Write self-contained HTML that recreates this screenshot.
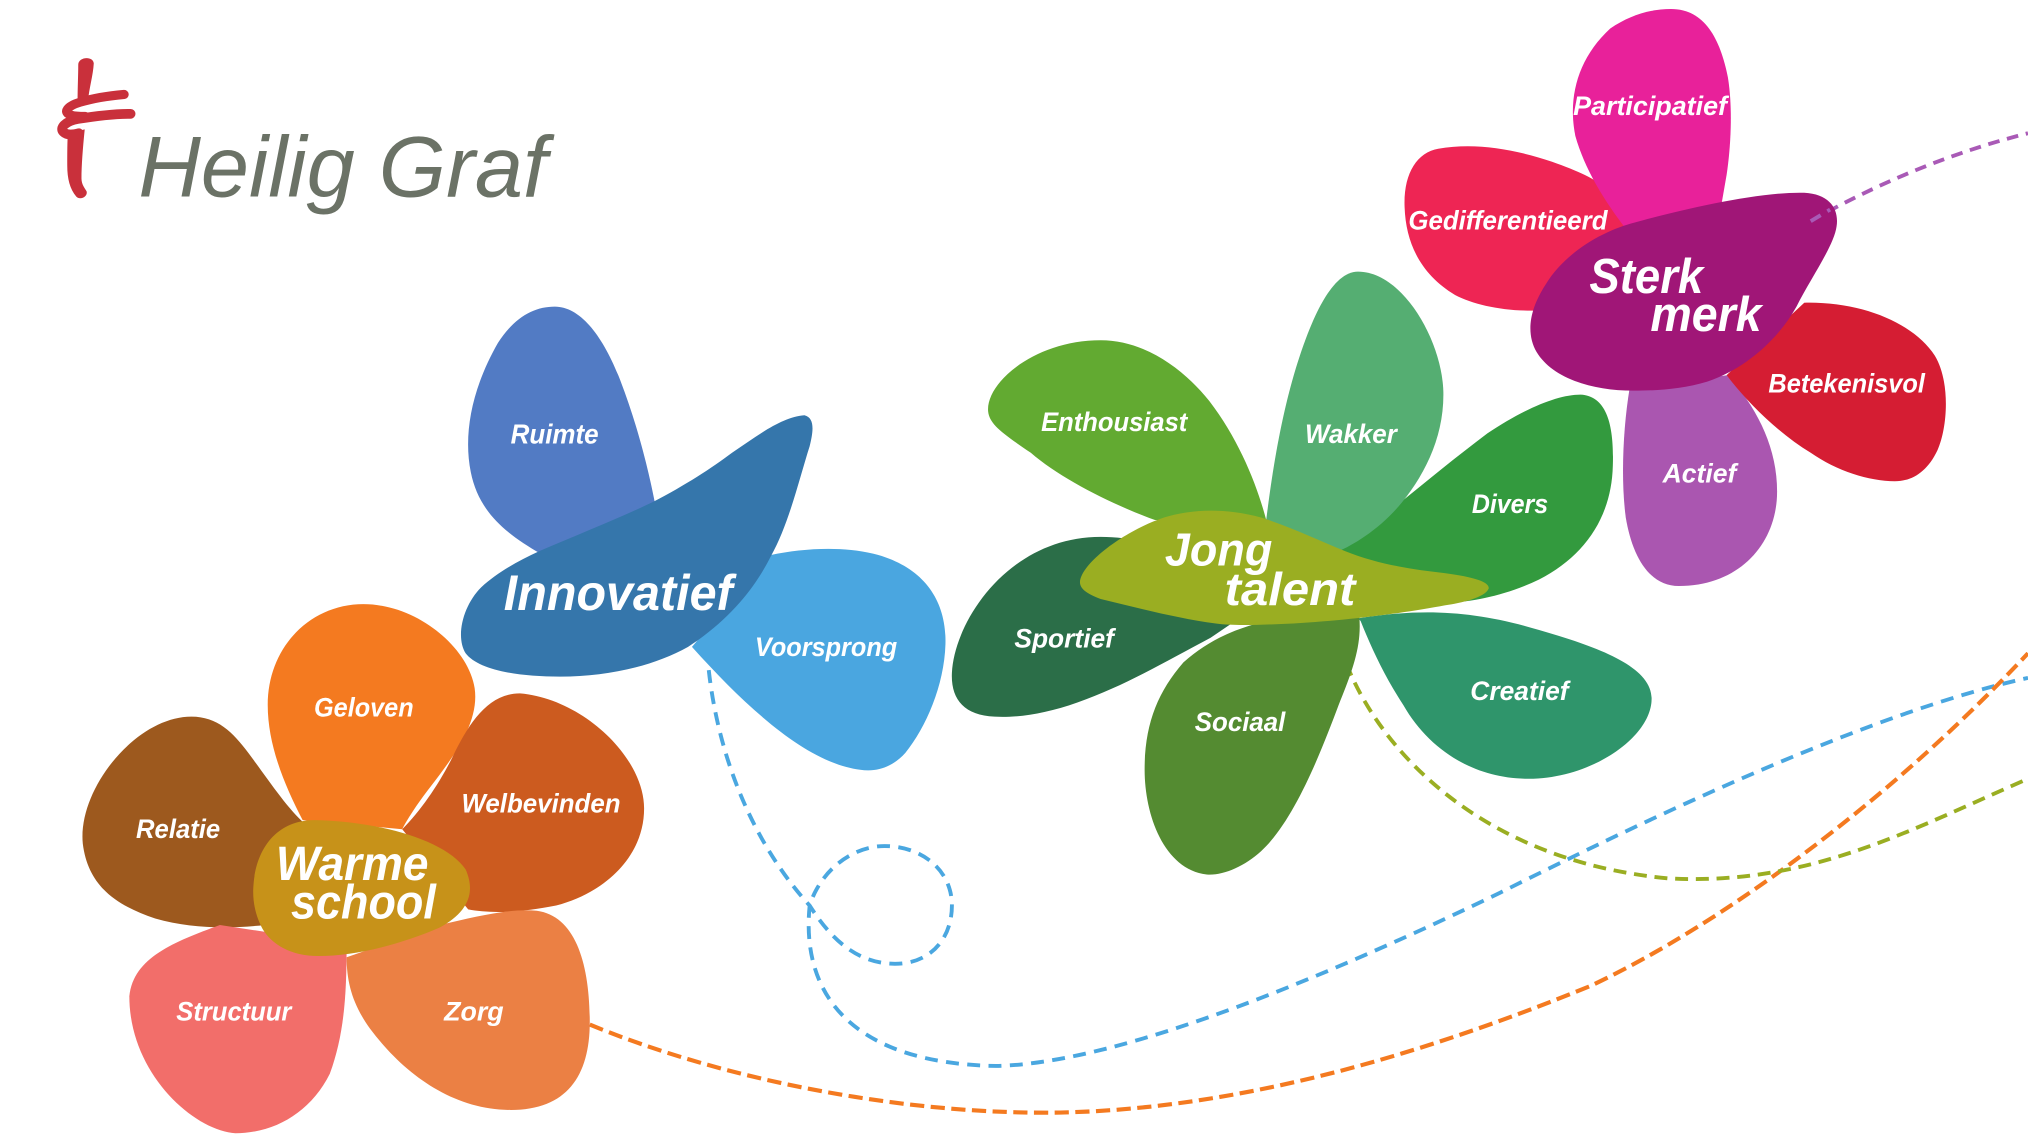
<!DOCTYPE html>
<html>
<head>
<meta charset="utf-8">
<style>
html,body{margin:0;padding:0;background:#ffffff;}
svg{display:block;}
.lbl{font-family:"Liberation Sans",sans-serif;font-style:italic;font-weight:bold;fill:#ffffff;}
.big{font-family:"Liberation Sans",sans-serif;font-style:italic;font-weight:bold;fill:#ffffff;}
</style>
</head>
<body>
<svg width="2028" height="1141" viewBox="0 0 1568 882" preserveAspectRatio="none" xmlns="http://www.w3.org/2000/svg">
<rect x="0" y="0" width="1568" height="882" fill="#ffffff"/>

<!-- dashed connectors (under flowers) -->
<g fill="none" stroke-linecap="butt">
  <path d="M1400,171 C1440,148 1500,120 1568,103" stroke="#a95ab6" stroke-width="3" stroke-dasharray="9 6"/>
  <path d="M548,518 C556,590 585,655 626,700 C640,722 660,745 692,745 C720,745 736,725 736,700 C736,672 712,654 684,654 C658,654 634,674 626,700 C619,770 660,822 770,824 C870,822 1040,748 1160,690 C1290,625 1450,550 1568,524" stroke="#4aa7e0" stroke-width="3" stroke-dasharray="10 6.5"/>
  <path d="M456,792 C560,835 700,862 820,860 C960,857 1100,815 1230,762 C1330,715 1460,620 1568,505" stroke="#f47a20" stroke-width="3.2" stroke-dasharray="11 5"/>
  <path d="M1041,513 C1065,575 1140,665 1290,679 C1400,685 1480,640 1568,602" stroke="#9aae22" stroke-width="3" stroke-dasharray="10 6"/>
</g>

<!-- Logo -->
<g fill="#c9303b">
  <path d="M60.5,50 C60.5,44 72,43 72.5,49 C72,58 69,68 68,78 L60,78 C60,68 60.5,58 60.5,50 Z"/>
  <path d="M52.5,103 L65.5,100 C64,115 63,128 63,138 C63,143 66,146 67,148 C68,152 62,155 59,152 C54,146 52,138 52,128 C52,118 52,110 52.5,103 Z"/>
</g>
<g fill="none" stroke="#c9303b" stroke-linecap="round" stroke-linejoin="round">
  <path d="M96,73 C85,74 72,76 62,79 C52,82 48,87 55,89 C58,90 62,90 66,90" stroke-width="7"/>
  <path d="M101,88 C88,88 72,90 60,92 C50,94 46,99 49,102 C52,105 57,104 61,103" stroke-width="7.5"/>
</g>
<text x="107" y="152" font-family="Liberation Sans, sans-serif" font-style="italic" font-size="67" fill="#6b7266" textLength="316" lengthAdjust="spacingAndGlyphs">Heilig Graf</text>

<!-- Innovatief flower -->
<path fill="#527bc4" d="M429,237 C448,237 465,258 478,290 C492,325 502,365 507,392 L418,428 C390,412 370,395 364,365 C358,335 365,300 385,265 C398,245 413,237 429,237 Z"/>
<path fill="#4aa6e0" d="M596,429 C620,424 650,422 675,428 C712,437 732,462 731,498 C730,530 716,562 700,582 C690,593 678,597 665,595 C625,590 580,550 535,500 Z"/>
<path fill="#3576ab" d="M622,321 C630,323 629,333 626,345 C618,370 610,405 596,430 C585,452 566,478 532,500 C505,515 470,523 433,523 C400,523 370,518 360,505 C352,492 358,468 372,454 C385,442 400,434 417,426 C450,412 480,400 505,388 C530,375 550,362 566,350 C585,337 605,322 622,321 Z"/>
<text class="lbl" x="394.8" y="342.8" font-size="21.5" textLength="68" lengthAdjust="spacingAndGlyphs">Ruimte</text>
<text class="lbl" x="583.7" y="507" font-size="21" textLength="110" lengthAdjust="spacingAndGlyphs">Voorsprong</text>
<text class="big" x="389.5" y="471.6" font-size="39" textLength="177" lengthAdjust="spacingAndGlyphs">Innovatief</text>

<!-- Warme school flower -->
<path fill="#9d591e" d="M148,554 C168,554 180,566 192,582 C207,602 222,625 236,637 L205,715 C178,718 148,718 120,710 C90,700 68,685 64,652 C60,610 105,554 148,554 Z"/>
<path fill="#f47a20" d="M281,467 C322,467 362,500 367,532 C371,560 348,588 333,608 C322,622 314,635 311,641 L234,634 C220,607 207,576 207,545 C207,500 240,467 281,467 Z"/>
<path fill="#cc5b1f" d="M402,536 C450,540 498,585 498,625 C498,662 468,690 430,700 C400,706 378,706 362,703 L311,641 C326,626 340,605 350,585 C362,560 377,536 402,536 Z"/>
<path fill="#eb8044" d="M340,715 C370,708 395,702 415,704 C445,708 456,745 456,790 C456,832 438,858 395,858 C350,858 312,830 286,795 C273,777 268,760 268,740 Z"/>
<path fill="#f26e6a" d="M100,770 C103,740 135,728 170,715 L268,730 C268,770 266,800 255,830 C240,860 212,876 182,876 C150,874 100,830 100,770 Z"/>
<path fill="#c79219" d="M243,634 C295,635 345,650 360,672 C368,690 362,705 340,717 C310,730 275,739 246,739 C225,739 210,730 203,718 C197,707 195,695 196,684 C198,655 215,634 243,634 Z"/>
<text class="lbl" x="242.8" y="554" font-size="20.5" textLength="77" lengthAdjust="spacingAndGlyphs">Geloven</text>
<text class="lbl" x="105.2" y="647.7" font-size="20.5" textLength="65" lengthAdjust="spacingAndGlyphs">Relatie</text>
<text class="lbl" x="356.8" y="627.9" font-size="20.5" textLength="123" lengthAdjust="spacingAndGlyphs">Welbevinden</text>
<text class="lbl" x="136.3" y="788.9" font-size="20.5" textLength="89" lengthAdjust="spacingAndGlyphs">Structuur</text>
<text class="lbl" x="343.4" y="789" font-size="20.5" textLength="46" lengthAdjust="spacingAndGlyphs">Zorg</text>
<text class="big" x="213.3" y="680.3" font-size="37" textLength="118" lengthAdjust="spacingAndGlyphs">Warme</text>
<text class="big" x="225" y="710" font-size="37" textLength="112" lengthAdjust="spacingAndGlyphs">school</text>

<!-- Jong talent flower -->
<path fill="#62aa31" d="M764,318 C762,296 800,263 851,263 C885,263 915,285 935,310 C958,340 972,375 979,402 L893,402 C860,390 820,370 797,350 C775,335 765,328 764,318 Z"/>
<path fill="#339a3e" d="M1035,426 C1070,400 1110,365 1150,335 C1180,315 1205,305 1222,305 C1243,306 1248,330 1247,360 C1246,400 1225,430 1190,448 C1165,460 1140,465 1120,466 L1100,468 Z"/>
<path fill="#55ae72" d="M1050,210 C1085,210 1116,265 1116,305 C1116,340 1100,370 1080,393 C1065,410 1045,422 1035,426 L979,402 C983,370 990,320 1005,275 C1015,245 1030,210 1050,210 Z"/>
<path fill="#2f956b" d="M1050,478 C1100,470 1140,472 1190,487 C1235,500 1277,515 1277,540 C1277,570 1230,602 1182,602 C1140,602 1105,580 1085,545 C1070,522 1060,500 1052,480 Z"/>
<path fill="#2b6e48" d="M851,415 C900,415 935,440 958,478 L936,493 C900,512 870,530 833,543 C808,552 785,555 769,554 C745,553 735,540 736,520 C738,480 780,415 851,415 Z"/>
<path fill="#548b31" d="M972,482 L1051,477 C1053,500 1045,520 1035,545 C1020,585 1000,635 975,658 C962,670 945,677 933,676 C900,672 885,630 885,595 C885,560 895,535 915,512 C932,497 950,488 972,482 Z"/>
<path fill="#9aae22" d="M835,450 C836,435 870,410 900,400 C920,394 945,392 975,400 C1000,408 1020,418 1040,426 C1065,436 1090,440 1117,443 C1140,446 1152,450 1151,455 C1148,462 1130,466 1117,468 C1090,473 1050,479 1000,482 C975,483 955,484 940,482 C910,478 880,470 851,463 C840,459 835,455 835,450 Z"/>
<text class="lbl" x="805" y="333" font-size="20.5" textLength="113" lengthAdjust="spacingAndGlyphs">Enthousiast</text>
<text class="lbl" x="1009" y="342.3" font-size="20.5" textLength="71" lengthAdjust="spacingAndGlyphs">Wakker</text>
<text class="lbl" x="1138" y="396.7" font-size="20.5" textLength="59" lengthAdjust="spacingAndGlyphs">Divers</text>
<text class="lbl" x="784.3" y="500.7" font-size="20.5" textLength="77" lengthAdjust="spacingAndGlyphs">Sportief</text>
<text class="lbl" x="923.8" y="565" font-size="20.5" textLength="70" lengthAdjust="spacingAndGlyphs">Sociaal</text>
<text class="lbl" x="1136.8" y="541" font-size="20.5" textLength="76" lengthAdjust="spacingAndGlyphs">Creatief</text>
<text class="big" x="900.7" y="437" font-size="36" textLength="83" lengthAdjust="spacingAndGlyphs">Jong</text>
<text class="big" x="946.9" y="467.5" font-size="36" textLength="101" lengthAdjust="spacingAndGlyphs">talent</text>

<!-- Sterk merk flower -->
<path fill="#ee2554" d="M1112,115 C1140,110 1170,115 1200,125 C1220,132 1235,139 1240,145 L1258,178 L1190,240 C1165,241 1140,236 1125,228 C1100,213 1087,190 1086,160 C1085,135 1095,118 1112,115 Z"/>
<path fill="#e8219a" d="M1292,7 C1318,7 1330,30 1336,60 C1340,85 1338,115 1335,135 L1331,158 L1258,178 C1240,155 1225,130 1218,105 C1212,75 1220,45 1245,22 C1260,12 1275,7 1292,7 Z"/>
<path fill="#aa56b0" d="M1260,300 L1336,290 C1358,315 1374,345 1374,380 C1374,420 1345,453 1298,453 C1275,453 1262,430 1257,400 C1253,370 1255,330 1260,300 Z"/>
<path fill="#d51d33" d="M1395,234 C1440,233 1480,250 1496,275 C1508,295 1506,330 1498,348 C1490,365 1478,372 1465,372 C1445,372 1420,364 1400,350 C1375,335 1350,310 1335,290 Z"/>
<path fill="#a01677" d="M1395,149 C1415,150 1422,162 1420,175 C1418,190 1400,215 1389,237 C1375,262 1350,285 1320,295 C1300,301 1280,302 1263,302 C1230,302 1200,292 1188,272 C1180,258 1182,240 1195,220 C1210,195 1240,178 1264,172 C1300,162 1360,148 1395,149 Z"/>
<text class="lbl" x="1216.3" y="88.8" font-size="20.5" textLength="119" lengthAdjust="spacingAndGlyphs">Participatief</text>
<text class="lbl" x="1088.9" y="177.5" font-size="20.5" textLength="154" lengthAdjust="spacingAndGlyphs">Gedifferentieerd</text>
<text class="lbl" x="1367.3" y="303.3" font-size="20.5" textLength="121" lengthAdjust="spacingAndGlyphs">Betekenisvol</text>
<text class="lbl" x="1285.5" y="372.8" font-size="20.5" textLength="57" lengthAdjust="spacingAndGlyphs">Actief</text>
<text class="big" x="1228.9" y="226.4" font-size="38" textLength="88" lengthAdjust="spacingAndGlyphs">Sterk</text>
<text class="big" x="1276" y="256" font-size="38" textLength="86" lengthAdjust="spacingAndGlyphs">merk</text>

<!-- purple dash start over center -->
<path d="M1400,171 C1405,168 1410,165 1415,162" fill="none" stroke="#a95ab6" stroke-width="3" stroke-dasharray="9 6"/>
</svg>
</body>
</html>
